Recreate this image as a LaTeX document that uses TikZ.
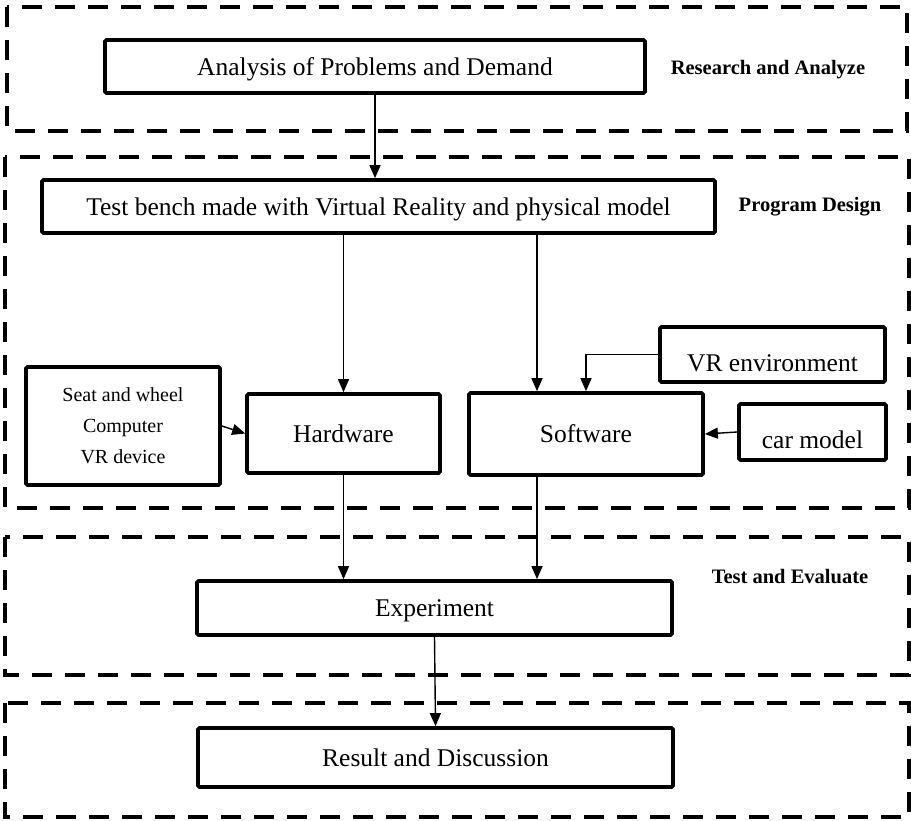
\documentclass[tikz,border=0pt]{standalone}
\usepackage{fontspec}
\setmainfont{Liberation Serif}
\usetikzlibrary{arrows.meta}

\begin{document}
\begin{tikzpicture}[x=1pt, y=-1pt,
  box/.style = {draw, line width=3.7pt, rounded corners=1.5pt, inner sep=0pt, align=center, text depth=0pt, font=\fontsize{25.5}{30}\selectfont},
  low/.style = {text height=33pt, text depth=0pt},
  zone/.style = {line width=4.8pt, dash pattern=on 20pt off 13pt},
  tag/.style = {font=\fontsize{20.5}{24}\selectfont\bfseries},
  flow/.style = {line width=1.4pt, -{Triangle[length=13pt,width=11pt]}}]
\useasboundingbox (0,0) rectangle (911,820);
\draw[zone] (7,7) rectangle (907,131);
\draw[zone] (5,157) rectangle (909,508);
\draw[zone] (5,537) rectangle (909,675);
\draw[zone] (5,703) rectangle (909,817);
\node[tag] (t1) at (768,70) {Research and Analyze};
\node[tag] (t2) at (810,207) {Program Design};
\node[tag] (t3) at (790,577) {Test and Evaluate};
\node[box, minimum width=540pt, minimum height=53pt] (r1) at (375,66.5) {Analysis of Problems and Demand};
\node[box, minimum width=673pt, minimum height=53pt] (p1) at (378.5,206.5) {Test bench made with Virtual Reality and physical model};
\node[box, minimum width=194pt, minimum height=118pt, font=\fontsize{20}{31}\selectfont] (p2) at (123,426) {Seat and wheel\\Computer\\VR device};
\node[box, minimum width=193pt, minimum height=79pt] (p3) at (343.5,433.5) {Hardware};
\node[box, minimum width=234pt, minimum height=82pt] (p4) at (586,434) {Software};
\node[box, low, minimum width=225pt, minimum height=55pt] (p5) at (772.5,354.5) {VR environment};
\node[box, low, minimum width=147pt, minimum height=56pt] (p6) at (812.5,432) {car model};
\node[box, minimum width=475pt, minimum height=54pt] (e1) at (434.5,608) {Experiment};
\node[box, minimum width=475pt, minimum height=59pt] (d1) at (435.5,757.5) {Result and Discussion};
\coordinate (s1) at ([xshift=-49pt]p4.north);
\draw[flow] (r1.south) -- (r1.south |- p1.north);
\draw[flow] (p1.south -| p3.north) -- (p3.north);
\draw[flow] (p1.south -| s1) -- (s1);
\draw[flow] (p5.west) -| (p4.north);
\draw[flow] (p6.west) -- (p4.east);
\draw[flow] (p2.east) -- (p3.west);
\draw[flow] (p3.south) -- (p3.south |- e1.north);
\draw[flow] (s1 |- p4.south) -- (s1 |- e1.north);
\draw[flow] (e1.south) -- (d1.north);
\end{tikzpicture}
\end{document}
